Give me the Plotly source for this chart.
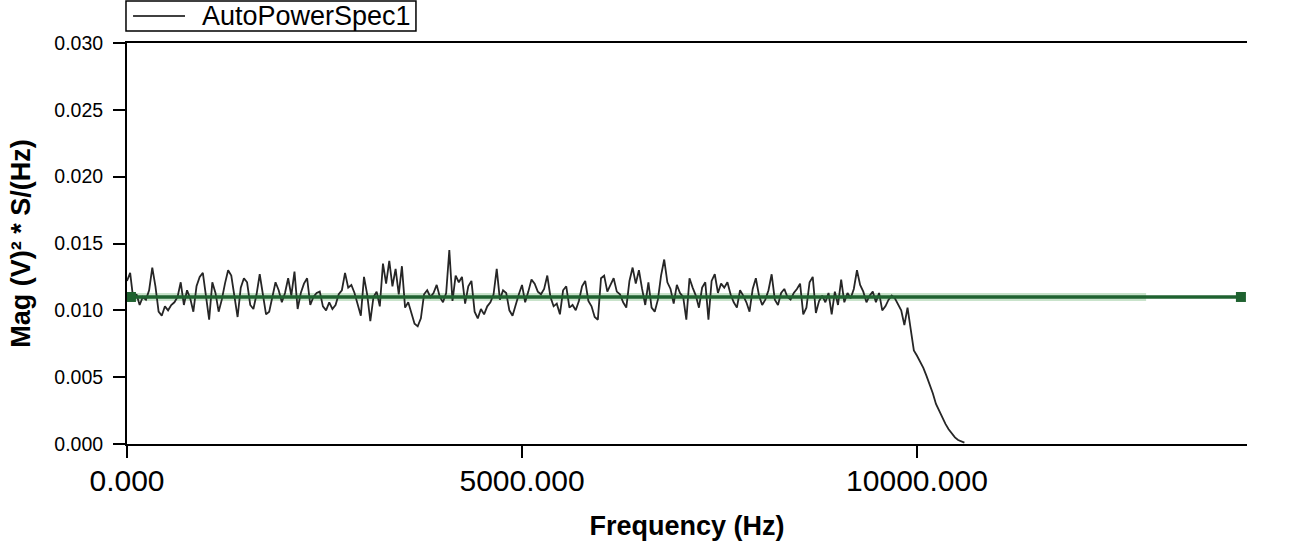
import numpy as np
import plotly.graph_objects as go

# ---- data ----
freq_step_hz = 40.0
psd_values = [
    0.0122,0.0128,0.0108,0.0112,0.0104,0.0110,0.0108,0.0115,0.0132,0.0118,
    0.0099,0.0096,0.0103,0.0100,0.0104,0.0106,0.0110,0.0121,0.0104,0.0115,
    0.0109,0.0099,0.0118,0.0125,0.0128,0.0112,0.0093,0.0121,0.0113,0.0099,
    0.0108,0.0120,0.0130,0.0126,0.0112,0.0095,0.0117,0.0124,0.0121,0.0104,
    0.0101,0.0112,0.0127,0.0113,0.0097,0.0099,0.0110,0.0121,0.0115,0.0106,
    0.0113,0.0124,0.0111,0.0129,0.0101,0.0113,0.0120,0.0124,0.0104,0.0110,
    0.0113,
    0.0114,0.0103,0.0100,0.0106,0.0101,0.0104,0.0112,0.0115,0.0128,0.0117,
    0.0119,0.0113,0.0105,0.0096,0.0125,0.0112,0.0092,0.0110,0.0114,0.0103,
    0.0135,0.0120,0.0137,0.0118,0.0131,0.0112,0.0133,0.0102,0.0106,0.0097,
    0.0090,0.0088,0.0094,0.0112,0.0115,0.0110,0.0113,0.0119,0.0110,0.0106,
    0.0113,0.0145,0.0107,0.0126,0.0121,0.0125,0.0105,0.0118,0.0122,0.0099,
    0.0094,0.0101,0.0097,0.0103,0.0106,0.0112,0.0131,0.0108,0.0115,0.0113,
    0.0100,
    0.0096,0.0105,0.0112,0.0119,0.0106,0.0114,0.0123,0.0120,0.0114,0.0112,
    0.0116,0.0126,0.0110,0.0103,0.0105,0.0097,0.0115,0.0118,0.0102,0.0104,
    0.0100,0.0107,0.0118,0.0122,0.0107,0.0103,0.0095,0.0093,0.0124,0.0126,
    0.0114,0.0119,0.0124,0.0114,0.0112,0.0106,0.0102,0.0122,0.0132,0.0120,
    0.0130,0.0116,0.0104,0.0121,0.0102,0.0099,0.0108,0.0126,0.0138,0.0121,
    0.0116,0.0105,0.0119,0.0113,0.0110,0.0093,0.0124,0.0117,0.0111,0.0102,
    0.0117,0.0121,
    0.0093,0.0122,0.0127,0.0113,0.0120,0.0117,0.0121,0.0112,0.0106,0.0102,
    0.0115,0.0111,0.0106,0.0099,0.0116,0.0124,0.0111,0.0104,0.0108,0.0115,
    0.0127,0.0108,0.0104,0.0113,0.0116,0.0110,0.0108,0.0113,0.0116,0.0120,
    0.0097,0.0102,0.0121,0.0125,0.0098,0.0107,0.0111,0.0106,0.0113,0.0097,
    0.0114,0.0104,0.0123,0.0106,0.0113,0.0109,0.0116,0.0130,0.0119,0.0114,
    0.0106,0.0111,0.0114,0.0106,0.0113,0.0100,0.0103,0.0108,0.0111,0.0109,
    0.0104,0.0100,0.0089,0.0102,0.0086,0.0070,0.0066,0.0062,0.0057,0.0051,
    0.0045,0.0038,0.0030,0.0025,0.0019,0.0015,0.0011,0.0008,0.0005,0.0003,
    0.0002,0.0001,
]
freq_hz = np.arange(len(psd_values)) * freq_step_hz
series_name = "AutoPowerSpec1"

level_x = [50, 14100]
level_y = [0.011, 0.011]
band_x = [0, 12900]
band_y = [0.011, 0.011]

x_range = [0, 14177]
y_range = [0, 0.030]
x_ticks = [0, 5000, 10000]
x_tick_labels = ["0.000", "5000.000", "10000.000"]
y_ticks = [0.000, 0.005, 0.010, 0.015, 0.020, 0.025, 0.030]
y_tick_labels = ["0.000", "0.005", "0.010", "0.015", "0.020", "0.025", "0.030"]

FONT = "Liberation Sans, Arial, sans-serif"
NOISE_COLOR = "#262626"

fig = go.Figure()
fig.add_trace(go.Scatter(x=band_x, y=band_y, mode="lines",
                         line=dict(color="#c9e3cb", width=8),
                         showlegend=False, hoverinfo="skip"))
fig.add_trace(go.Scatter(x=freq_hz, y=psd_values, mode="lines",
                         name=series_name, showlegend=False,
                         line=dict(color=NOISE_COLOR, width=1.8)))
fig.add_trace(go.Scatter(x=level_x, y=level_y, mode="lines+markers",
                         line=dict(color="#1f6230", width=3.5),
                         marker=dict(symbol="square", size=10, color="#1f6230"),
                         showlegend=False, hoverinfo="skip", cliponaxis=False))

# legend box drawn in paper coordinates (box, sample line, label)
fig.add_shape(type="rect", xref="paper", yref="paper",
              x0=-0.0009, x1=0.258, y0=1.0299, y1=1.1047,
              line=dict(color="black", width=1.5), fillcolor="white", layer="above")
fig.add_shape(type="line", xref="paper", yref="paper",
              x0=0.0054, x1=0.0518, y0=1.0673, y1=1.0673,
              line=dict(color="black", width=1.3), layer="above")
fig.add_annotation(text=series_name, xref="paper", yref="paper",
                   x=0.0652, y=1.0673, xanchor="left", yanchor="middle",
                   showarrow=False, font=dict(size=27, family=FONT, color="black"))

axis_common = dict(showgrid=False, zeroline=False, linecolor="black",
                   linewidth=2, tickcolor="black", tickwidth=2)
tick_only = {k: v for k, v in axis_common.items() if k not in ("linecolor", "linewidth")}

fig.update_layout(
    width=1290, height=546,
    margin=dict(l=127, r=43, t=43, b=102, autoexpand=False),
    paper_bgcolor="white", plot_bgcolor="white",
    font=dict(family=FONT, color="black"),
    showlegend=False,
    xaxis=dict(range=x_range, tickmode="array", tickvals=x_ticks,
               ticktext=x_tick_labels, ticks="outside", ticklen=12,
               showline=True, mirror=True,
               tickfont=dict(size=30, family=FONT),
               ticklabelstandoff=-3,
               title=dict(text="<b>Frequency (Hz)</b>",
                          font=dict(size=27, family=FONT), standoff=20),
               **axis_common),
    xaxis2=dict(range=x_range, overlaying="x", anchor="y", side="bottom",
                tickmode="array", tickvals=x_ticks, ticks="inside",
                ticklen=12, showticklabels=False, showline=False,
                **tick_only),
    yaxis=dict(range=y_range, tickmode="array", tickvals=y_ticks,
               ticktext=y_tick_labels, ticks="outside", ticklen=12,
               showline=True,
               tickfont=dict(size=19.5, family=FONT),
               ticklabelstandoff=6,
               title=dict(text="<b>Mag (V)² * S/(Hz)</b>",
                          font=dict(size=27, family=FONT), standoff=16),
               **axis_common),
    yaxis2=dict(range=y_range, overlaying="y", anchor="x", side="left",
                tickmode="array", tickvals=y_ticks, ticks="inside",
                ticklen=9, showticklabels=False, showline=False,
                **tick_only),
    yaxis3=dict(range=y_range, overlaying="y", anchor="x", side="right",
                tickmode="array", tickvals=y_ticks, ticks="inside",
                ticklen=9, showticklabels=False, showline=True,
                **axis_common),
)

fig.write_html("out.html",
               config={"displayModeBar": False},
               post_script="document.body.style.margin='0';document.body.style.padding='0';")
